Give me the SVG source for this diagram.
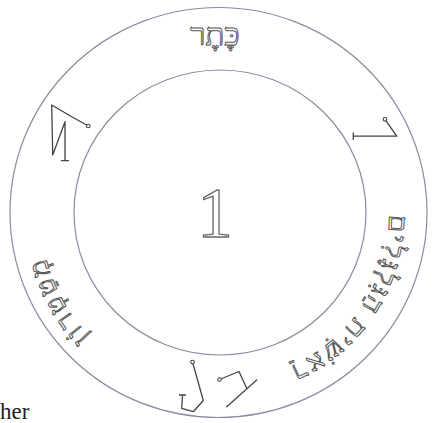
<svg xmlns="http://www.w3.org/2000/svg" width="433" height="423" viewBox="0 0 433 423">
  <style>
    .ring { fill: none; stroke: #8a8aa0; stroke-width: 1.2; }
    .heb { font-family: "Liberation Serif", "DejaVu Sans", serif; font-size: 27px; fill: #ffffff; stroke: #555; stroke-width: 1; }
    .title { font-size: 31px; }
    .num { font-family: "Liberation Serif", serif; font-size: 71px; fill: #ffffff; stroke: #666; stroke-width: 1.3; }
    .sig { fill: none; stroke: #444; stroke-width: 1.3; stroke-linejoin: round; stroke-linecap: round; }
    .dot { fill: #fff; stroke: #444; stroke-width: 1.1; }
    .cap { font-family: "Liberation Serif", serif; font-size: 23px; fill: #222; }
  </style>
  <defs>
    <path id="arcRight" d="M 369.45 137.98 A 164 164 0 0 1 209.8 379.19"/>
    <path id="arcLeft" d="M 220 390.5 A 176 176 0 0 1 65.85 123.5"/>
  </defs>
  <rect width="433" height="423" fill="#ffffff"/>

  <g id="outer-ring"><ellipse class="ring" cx="218.5" cy="212.5" rx="208.5" ry="205"/></g>
  <g id="inner-ring"><ellipse class="ring" cx="220" cy="212.5" rx="146" ry="142.5"/></g>

  <g id="title"><text class="heb title" x="215" y="45" text-anchor="middle">כֶּתֶר</text></g>
  <g id="number"><text class="num" x="215" y="236.5" text-anchor="middle">1</text></g>

  <g id="text-right"><text class="heb" letter-spacing="2.5"><textPath href="#arcRight" startOffset="50%" text-anchor="middle">רֵאשִׁית הַגִּלְגָּלִים</textPath></text></g>
  <g id="text-left"><text class="heb" letter-spacing="3"><textPath href="#arcLeft" startOffset="51%" text-anchor="middle">מְטַטְרוֹן</textPath></text></g>

  <g id="sigil-left">
    <path class="sig" d="M 88.3 126 Q 70 116 51.7 105 L 52.7 155 L 65 121.7 L 65 160.7 M 61.5 160.7 L 68.5 160.7"/>
    <circle class="dot" cx="88.3" cy="126" r="1.8"/>
  </g>
  <g id="sigil-right">
    <path class="sig" d="M 385 119.3 L 396.7 136.2 L 353.3 136.2 M 353.3 133 L 353.3 139.4"/>
    <circle class="dot" cx="385" cy="119.3" r="1.8"/>
  </g>
  <g id="sigil-bottom-left">
    <path class="sig" d="M 192.5 362 L 203.3 400.5 L 193.3 411.7 L 181.7 408.3 L 182.5 395 M 179.5 395 L 185.5 395"/>
    <circle class="dot" cx="192.5" cy="362" r="1.8"/>
  </g>
  <g id="sigil-bottom-right">
    <path class="sig" d="M 219.5 379.5 L 239 371.5 L 246.7 388.3 M 256.7 380 L 226.7 406.7"/>
    <circle class="dot" cx="219.5" cy="379.5" r="1.8"/>
  </g>

  <g id="caption"><text class="cap" x="0" y="419">her</text></g>
</svg>
